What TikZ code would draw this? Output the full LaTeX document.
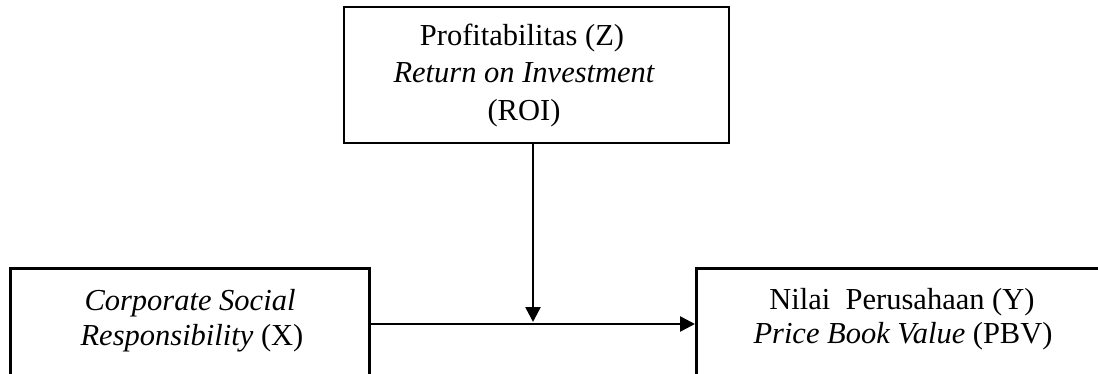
\documentclass[tikz,border=0pt]{standalone}
\usepackage{fontspec}
\setmainfont{Liberation Serif}
\usetikzlibrary{arrows.meta}
\begin{document}
\begin{tikzpicture}[x=1pt,y=-1pt,
  box/.style={draw=black,line width=2.6pt,rectangle,inner sep=0pt},
  lbl/.style={anchor=base,inner sep=0pt,font=\fontsize{30.5}{36}\selectfont},
  conn/.style={line width=2.6pt,-{Triangle[length=15pt,width=15pt]}}]
\useasboundingbox (0,0) rectangle (1098,374);
\fill[white] (0,0) rectangle (1098,374);
\clip (0,0) rectangle (1098,374);
% boxes
\node[box,minimum width=385pt,minimum height=136pt] (top) at (536.5,75) {};
\node[box,minimum width=359pt,minimum height=160pt,anchor=north west] (left) at (9,267) {};
\node[box,minimum width=420pt,minimum height=160pt,anchor=north west] (right) at (695,267) {};
% texts
\node[lbl] (t1) at (522,46) {Profitabilitas (Z)};
\node[lbl] (t2) at (524,83) {\itshape Return on Investment};
\node[lbl] (t3) at (524,121) {(ROI)};
\node[lbl] (l1) at (190,310) {\itshape Corporate Social};
\node[lbl] (l2) at (192,345) {\textit{Responsibility} (X)};
\node[lbl] (r1) at (902,309) {Nilai~ Perusahaan (Y)};
\node[lbl] (r2) at (903,343) {\textit{Price Book Value} (PBV)};
% connectors
\coordinate (hy) at (0,324);
\coordinate (meet) at (533,322);
\draw[conn] (left.east |- hy) -- (right.west |- hy);
\draw[conn] (top.south -| meet) -- (meet);
\end{tikzpicture}
\end{document}
